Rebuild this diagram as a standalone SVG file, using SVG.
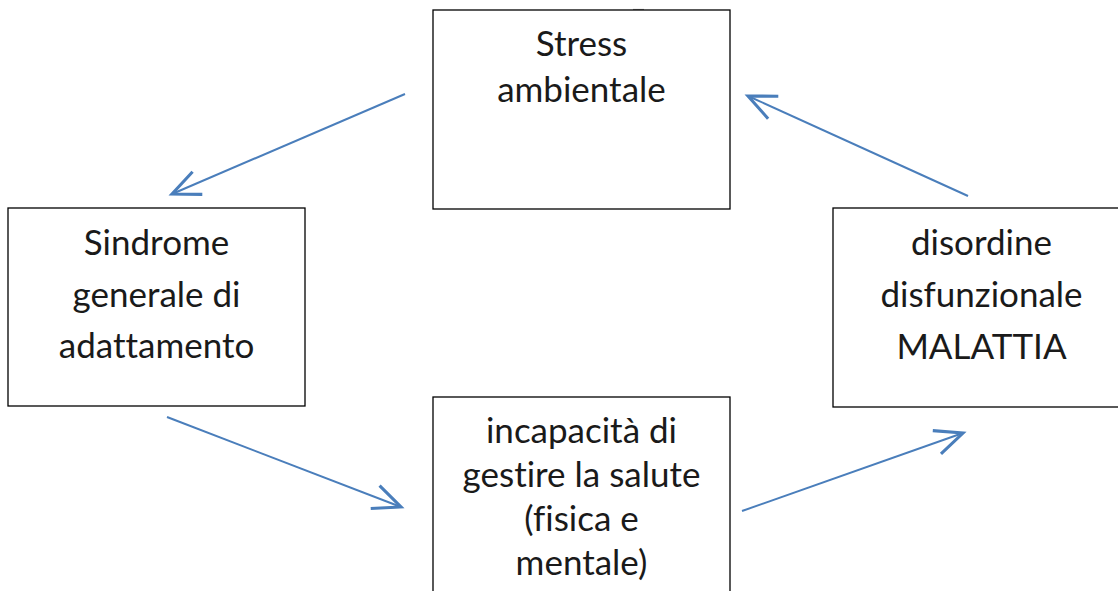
<svg xmlns="http://www.w3.org/2000/svg" width="1118" height="591" viewBox="0 0 1118 591">
<style>
.box{fill:#fff;stroke:#000;stroke-width:1.3}
.lbl{font-family:Lato,"Open Sans","Liberation Sans",sans-serif;font-size:35px;fill:#1a1a1a;text-anchor:middle;font-variant-ligatures:none;font-feature-settings:"liga" 0}
.conn{stroke:#4a7ebb;stroke-width:2;fill:none;marker-end:url(#arr)}
</style>
<defs>
<marker id="arr" markerUnits="userSpaceOnUse" markerWidth="40" markerHeight="40" viewBox="-22 -12 26 24" refX="0" refY="0" orient="auto">
<path d="M-18,-8 L0,0 L-18,8" fill="none" stroke="#4a7ebb" stroke-width="2"/>
</marker>
</defs>
<rect width="1118" height="591" fill="#fff"/>
<line x1="633" y1="9.5" x2="644" y2="9.5" stroke="#888" stroke-width="1.2"/>
<g id="stress">
<rect class="box" x="433" y="10" width="297" height="199"/>
<text class="lbl" x="581.5" y="56">Stress</text>
<text class="lbl" x="581.5" y="102">ambientale</text>
</g>
<g id="sindrome">
<rect class="box" x="8" y="208" width="297" height="198"/>
<text class="lbl" x="156.5" y="255">Sindrome</text>
<text class="lbl" x="156.5" y="307">generale di</text>
<text class="lbl" x="156.5" y="358">adattamento</text>
</g>
<g id="disordine">
<rect class="box" x="833" y="208" width="297" height="199"/>
<text class="lbl" x="981.5" y="255">disordine</text>
<text class="lbl" x="981.5" y="307">disfunzionale</text>
<text class="lbl" x="981.5" y="359">MALATTIA</text>
</g>
<g id="incapacita">
<rect class="box" x="433" y="397" width="297" height="210"/>
<text class="lbl" x="581.5" y="443">incapacità di</text>
<text class="lbl" x="581.5" y="487">gestire la salute</text>
<text class="lbl" x="581.5" y="531">(fisica e</text>
<text class="lbl" x="581.5" y="575">mentale)</text>
</g>
<g id="connectors">
<line class="conn" x1="405" y1="94" x2="172" y2="194"/>
<line class="conn" x1="968" y1="196" x2="748" y2="96"/>
<line class="conn" x1="167" y1="417" x2="401" y2="507"/>
<line class="conn" x1="742" y1="511" x2="963" y2="433"/>
</g>
</svg>
